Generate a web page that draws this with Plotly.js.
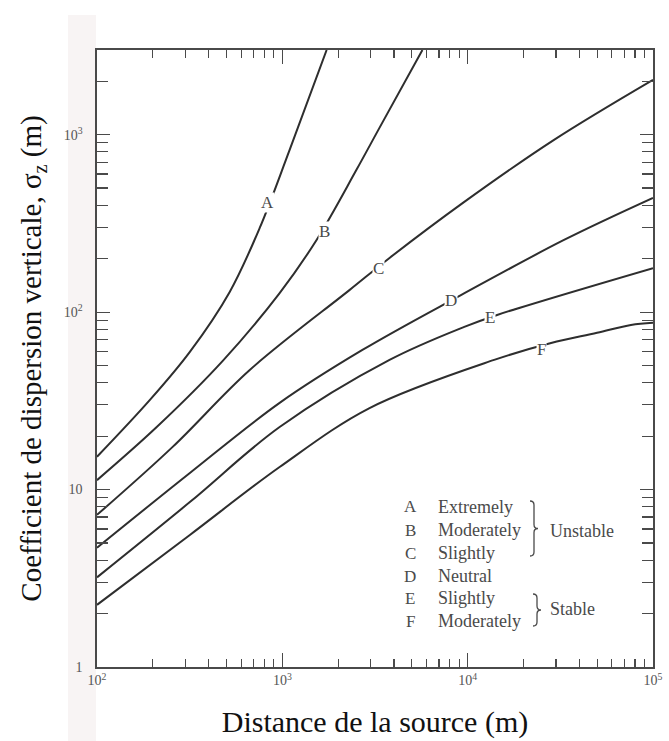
<!DOCTYPE html>
<html><head><meta charset="utf-8">
<script src="https://cdn.plot.ly/plotly-3.0.1.min.js"></script>
<style>html,body{margin:0;padding:0;background:#fff}</style>
</head><body><div id="chart" style="width:669px;height:741px"></div>
<script>
// ---- data ----
const stabilityClasses = ['A','B','C','D','E','F'];
const xA = [100, 193, 317, 520, 755, 1095, 1734];
const yA = [15.3, 32, 59.7, 130, 298, 821, 3000];
const xB = [100, 210, 477, 967, 1530, 2512, 3342, 5700];
const yB = [11.3, 22.5, 53.1, 128, 255, 634, 1092, 3000];
const xC = [100, 256, 667, 2301, 3788, 9590, 29240, 100000];
const yC = [7.2, 17.4, 47.2, 133, 202, 418, 935, 2037];
const xD = [100, 317, 967, 2705, 9250, 33100, 100000];
const yD = [4.7, 12.4, 30.8, 61.2, 125, 255, 440];
const xE = [100, 317, 967, 3788, 9590, 14420, 100000];
const yE = [3.2, 8.5, 22.5, 53.8, 82.6, 96.4, 177];
const xF = [100, 317, 967, 2955, 13900, 28200, 49900, 76000, 100000];
const yF = [2.24, 5.55, 13.4, 28.8, 53.8, 67, 76.4, 84.7, 87];
const labelX = [834, 1690, 3304, 8170, 13250, 24900];
const labelY = [413, 283, 175, 117, 92.7, 61.2];
const legendWords = ['Extremely', 'Moderately', 'Slightly', 'Neutral', 'Slightly', 'Moderately'];
const groupNames = ['Unstable', 'Stable'];
const xTickVals = [100, 1000, 10000, 100000];
const xTickText = ['10<sup>2</sup>', '10<sup>3</sup>', '10<sup>4</sup>', '10<sup>5</sup>'];
const xMinorVals = [200,300,400,500,600,700,800,900,2000,3000,4000,5000,6000,7000,8000,9000,20000,30000,40000,50000,60000,70000,80000,90000];
const yTickVals = [1, 10, 100, 1000];
const yTickText = ['1', '10', '10<sup>2</sup>', '10<sup>3</sup>'];
const yMinorVals = [2,3,4,5,6,7,8,9,20,30,40,50,60,70,80,90,200,300,400,500,600,700,800,900,2000];
const xTitle = 'Distance de la source (m)';
const yTitle = 'Coefficient de dispersion verticale, σ<sub>z</sub> (m)';

// ---- drawing ----
const SERIF = 'Liberation Serif, Times New Roman, serif';
const W = 669, H = 741, L = 97, R = 16, T = 50, B = 74;
const pw = W - L - R, ph = H - T - B;
const PX = px => (px - L) / pw;
const PY = py => (H - B - py) / ph;

const xs = [xA, xB, xC, xD, xE, xF];
const ys = [yA, yB, yC, yD, yE, yF];
const traces = stabilityClasses.map((c, i) => ({
  type: 'scatter', mode: 'lines', name: c, x: xs[i], y: ys[i],
  line: {color: '#2e2e2e', width: 2, shape: 'spline', smoothing: 1},
  hoverinfo: 'skip', showlegend: false
}));

const annotations = [];
stabilityClasses.forEach((c, i) => {
  annotations.push({x: Math.log10(labelX[i]), y: Math.log10(labelY[i]), xref: 'x', yref: 'y',
    text: c, showarrow: false, bgcolor: '#ffffff', borderpad: 0,
    font: {family: SERIF, size: 17, color: '#4a4a4a'}});
});
const rowY = [507, 530, 553, 576, 598, 621];
stabilityClasses.forEach((c, i) => {
  annotations.push({x: PX(410), y: PY(rowY[i]), xref: 'paper', yref: 'paper', text: c,
    showarrow: false, xanchor: 'center', yanchor: 'middle',
    font: {family: SERIF, size: 17, color: '#4a4a4a'}});
  annotations.push({x: PX(436), y: PY(rowY[i]), xref: 'paper', yref: 'paper', text: legendWords[i],
    showarrow: false, xanchor: 'left', yanchor: 'middle',
    font: {family: SERIF, size: 18, color: '#4a4a4a'}});
});
annotations.push({x: PX(548), y: PY(531), xref: 'paper', yref: 'paper', text: groupNames[0],
  showarrow: false, xanchor: 'left', yanchor: 'middle', font: {family: SERIF, size: 18, color: '#4a4a4a'}});
annotations.push({x: PX(548), y: PY(609), xref: 'paper', yref: 'paper', text: groupNames[1],
  showarrow: false, xanchor: 'left', yanchor: 'middle', font: {family: SERIF, size: 18, color: '#4a4a4a'}});

function brace(x, y0, y1) {
  const ym = (y0 + y1) / 2, d = 4;
  const pts = [['M', x - 3, y0], ['Q', x + 1, y0, x + 1, y0 + d], ['L', x + 1, ym - d],
    ['Q', x + 1, ym, x + 5, ym], ['Q', x + 1, ym, x + 1, ym + d], ['L', x + 1, y1 - d],
    ['Q', x + 1, y1, x - 3, y1]];
  return pts.map(p => {
    let s = p[0];
    for (let k = 1; k < p.length; k += 2) s += ' ' + PX(p[k]).toFixed(5) + ',' + PY(p[k + 1]).toFixed(5);
    return s;
  }).join(' ');
}

const shapes = [
  {type: 'rect', xref: 'paper', yref: 'paper', x0: PX(68), x1: PX(96), y0: PY(741), y1: PY(15),
   fillcolor: '#f8f4f4', line: {width: 0}, layer: 'below'},
  {type: 'path', xref: 'paper', yref: 'paper', path: brace(533, 501, 556), line: {color: '#4a4a4a', width: 1.3}},
  {type: 'path', xref: 'paper', yref: 'paper', path: brace(536, 594, 626), line: {color: '#4a4a4a', width: 1.3}}
];

const axisCommon = {
  type: 'log', showgrid: false, zeroline: false, showline: true, linecolor: '#4a4a4a', linewidth: 1.6,
  mirror: 'allticks', ticks: 'inside', tickcolor: '#4a4a4a', tickwidth: 1.2,
  tickmode: 'array', tickfont: {family: SERIF, size: 14, color: '#555555'}
};

const layout = {
  width: W, height: H, margin: {l: L, r: R, t: T, b: B},
  paper_bgcolor: '#ffffff', plot_bgcolor: 'rgba(0,0,0,0)', showlegend: false,
  xaxis: Object.assign({}, axisCommon, {
    range: [2, 5], tickvals: xTickVals, ticktext: xTickText, ticklen: 14,
    minor: {tickmode: 'array', tickvals: xMinorVals, ticks: 'inside', ticklen: 8, tickcolor: '#4a4a4a', tickwidth: 1.2},
    title: {text: '\u00A0\u00A0\u00A0\u00A0' + xTitle, font: {family: SERIF, size: 30, color: '#111111'}, standoff: 23}
  }),
  yaxis: Object.assign({}, axisCommon, {
    range: [0, Math.log10(3000)], tickvals: yTickVals, ticktext: yTickText, ticklen: 13,
    ticklabelstandoff: 10,
    minor: {tickmode: 'array', tickvals: yMinorVals, ticks: 'inside', ticklen: 11, tickcolor: '#4a4a4a', tickwidth: 1.2},
    title: {text: yTitle, font: {family: SERIF, size: 29, color: '#111111'}, standoff: 13}
  }),
  annotations: annotations, shapes: shapes
};

Plotly.newPlot('chart', traces, layout, {staticPlot: true, displayModeBar: false});
</script>
</body></html>
